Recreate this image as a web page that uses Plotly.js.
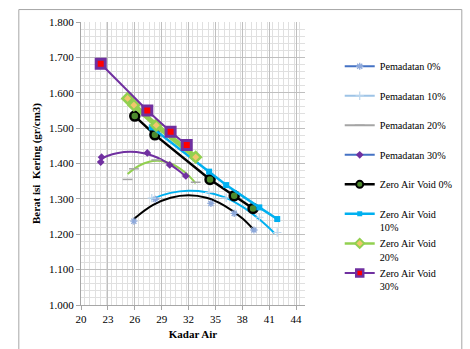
<!DOCTYPE html>
<html><head><meta charset="utf-8">
<script src="https://cdn.plot.ly/plotly-3.0.1.min.js"></script>
<style>html,body{margin:0;padding:0;background:#fff}#c{width:470px;height:349px}</style>
</head><body><div id="c"></div>
<script>
// Pemadatan (compaction test) points
const pem0X = [25.9, 28.3, 34.5, 37.1, 39.3];
const pem0Y = [1.237, 1.299, 1.287, 1.259, 1.212];
const pem10X = [27.9, 34.3, 36.2, 39.9, 41.9];
const pem10Y = [1.302, 1.318, 1.303, 1.248, 1.205];
const pem20X = [25.2, 25.9, 28.4, 32.8];
const pem20Y = [1.355, 1.385, 1.410, 1.347];
const pem30X = [22.2, 22.3, 27.4, 29.9, 31.7];
const pem30Y = [1.404, 1.418, 1.430, 1.396, 1.365];
// Zero Air Void lines
const zav0X = [26.0, 28.25, 34.4, 37.1, 39.2];
const zav0Y = [1.534, 1.481, 1.355, 1.309, 1.273];
const zav10X = [27.9, 34.3, 36.2, 39.9, 41.9];
const zav10Y = [1.502, 1.377, 1.339, 1.276, 1.243];
const zav20X = [25.2, 25.9, 28.4, 32.8];
const zav20Y = [1.584, 1.565, 1.508, 1.418];
const zav30X = [22.2, 27.4, 30.0, 31.8];
const zav30Y = [1.682, 1.550, 1.490, 1.452];
// trendlines
const tr0X = [25.9, 28, 30, 32, 34, 36, 38, 39.3];
const tr0Y = [1.243, 1.282, 1.303, 1.310, 1.303, 1.281, 1.245, 1.212];
const tr10X = [27.8, 30, 32, 34, 36, 38, 40, 41.6];
const tr10Y = [1.299, 1.317, 1.323, 1.319, 1.305, 1.278, 1.240, 1.203];
const tr20X = [25.2, 26, 27, 28, 29, 30, 31, 32, 32.8];
const tr20Y = [1.370, 1.386, 1.400, 1.407, 1.407, 1.400, 1.386, 1.366, 1.344];
const tr30X = [22.2, 23, 24, 25.5, 27, 28, 29, 30, 31, 31.7];
const tr30Y = [1.413, 1.422, 1.429, 1.433, 1.429, 1.422, 1.411, 1.396, 1.378, 1.363];

const names = ['Pemadatan 0%','Pemadatan 10%','Pemadatan 20%','Pemadatan 30%',
  'Zero Air Void 0%','Zero Air Void<br>10%','Zero Air Void<br>20%','Zero Air Void<br>30%'];
const sp = '<br>&nbsp;';

const traces = [];
function trend(x,y,c){traces.push({x:x,y:y,mode:'lines',line:{color:c,width:2,shape:'spline'},showlegend:false,hoverinfo:'skip'});}
trend(tr0X,tr0Y,'#000000');
trend(tr10X,tr10Y,'#00b0f0');
trend(tr20X,tr20Y,'#92d050');
trend(tr30X,tr30Y,'#7030a0');

const pemMarkers = [
  {x:pem0X,y:pem0Y,m:{symbol:'asterisk-open',size:6,color:'#8ea9db',line:{color:'#8ea9db',width:1.3}},lc:'#4472c4'},
  {x:pem10X,y:pem10Y,m:{symbol:'cross-thin-open',size:6,color:'#bdd7ee',line:{color:'#bdd7ee',width:1.2}},lc:'#9dc3e6'},
  {x:pem20X,y:pem20Y,m:{symbol:'line-ew-open',size:7,color:'#a5a5a5',line:{color:'#a5a5a5',width:1.5}},lc:'#a5a5a5'},
  {x:pem30X,y:pem30Y,m:{symbol:'diamond',size:6,color:'#7030a0'},lc:'#4472c4'}
];
pemMarkers.forEach((p)=>{
  traces.push({x:p.x,y:p.y,mode:'markers',marker:p.m,showlegend:false,hoverinfo:'skip'});
});

const zav = [
  {x:zav0X,y:zav0Y,line:{color:'#000000',width:2.5},
   m:{symbol:'circle',size:9,color:'#4e8a2e',line:{color:'#000000',width:2.5}},
   lm:{symbol:'circle',size:7,color:'#4e8a2e',line:{color:'#000000',width:2}}},
  {x:zav10X,y:zav10Y,line:{color:'#00b0f0',width:2.5},
   m:{symbol:'square',size:6,color:'#00b0f0'},
   lm:{symbol:'square',size:5,color:'#00b0f0'}},
  {x:zav20X,y:zav20Y,line:{color:'#92d050',width:5},
   m:{symbol:'diamond',size:8,color:'#f2c66d',line:{color:'#92d050',width:2.5}},
   lm:{symbol:'diamond',size:7,color:'#f2c66d',line:{color:'#92d050',width:2}}},
  {x:zav30X,y:zav30Y,line:{color:'#7030a0',width:2},
   m:{symbol:'square',size:9,color:'#ff0000',line:{color:'#7030a0',width:3}},
   lm:{symbol:'square',size:7,color:'#ff0000',line:{color:'#7030a0',width:2.5}}}
];
zav.forEach((z)=>{
  traces.push({x:z.x,y:z.y,mode:'lines+markers',line:z.line,marker:z.m,showlegend:false,hoverinfo:'skip'});
});

// legend-only entries
pemMarkers.forEach((p,i)=>{
  traces.push({x:[null],y:[null],mode:'lines+markers',name:names[i]+sp,line:{color:p.lc,width:2},marker:p.m,legendrank:i+1});
});
zav.forEach((z,i)=>{
  traces.push({x:[null],y:[null],mode:'lines+markers',name:names[i+4]+(i===0?sp:''),
    line:{color:z.line.color,width:Math.min(z.line.width,2.5)},marker:z.lm,legendrank:i+5});
});

const ff = "'Liberation Serif', 'Times New Roman', serif";
const font = {family:ff, size:11, color:'#000'};
const layout = {
  width:470, height:349,
  margin:{l:81, r:144, t:22, b:44},
  paper_bgcolor:'#ffffff', plot_bgcolor:'#ffffff',
  font:font,
  showlegend:true,
  legend:{x:1.155, xanchor:'left', y:0.89, yanchor:'top', valign:'top', font:{family:ff,size:10.2,color:'#000'},
    bgcolor:'rgba(0,0,0,0)', tracegroupgap:0, itemwidth:30},
  xaxis:{range:[20,45], tick0:20, dtick:3, showgrid:true, gridcolor:'#bfbfbf', gridwidth:1,
    minor:{dtick:0.6, showgrid:true, gridcolor:'#e0e0e0', gridwidth:1},
    showline:true, linecolor:'#a6a6a6', linewidth:1, ticks:'outside', ticklen:4, tickcolor:'#a6a6a6',
    zeroline:false, tickfont:{family:ff, size:11},
    title:{text:'<b>Kadar Air</b>', font:{family:ff, size:11}, standoff:6}},
  yaxis:{range:[1.0,1.8], dtick:0.1, tickformat:'.3f', showgrid:true, gridcolor:'#bfbfbf', gridwidth:1,
    minor:{dtick:0.02, showgrid:true, gridcolor:'#e0e0e0', gridwidth:1},
    showline:true, linecolor:'#a6a6a6', linewidth:1, ticks:'outside', ticklen:4, tickcolor:'#a6a6a6',
    zeroline:false, tickfont:{family:ff, size:11},
    title:{text:'<b>Berat isi  Kering (gr/cm3)</b>', font:{family:ff, size:11}, standoff:6}},
  shapes:[{type:'rect', xref:'paper', yref:'paper', x0:-0.2776, x1:1.7, y0:-0.3, y1:1.044,
    line:{color:'#a6a6a6', width:1}, fillcolor:'rgba(0,0,0,0)', layer:'below'}]
};
Plotly.newPlot('c', traces, layout, {displayModeBar:false, staticPlot:true});
</script></body></html>
